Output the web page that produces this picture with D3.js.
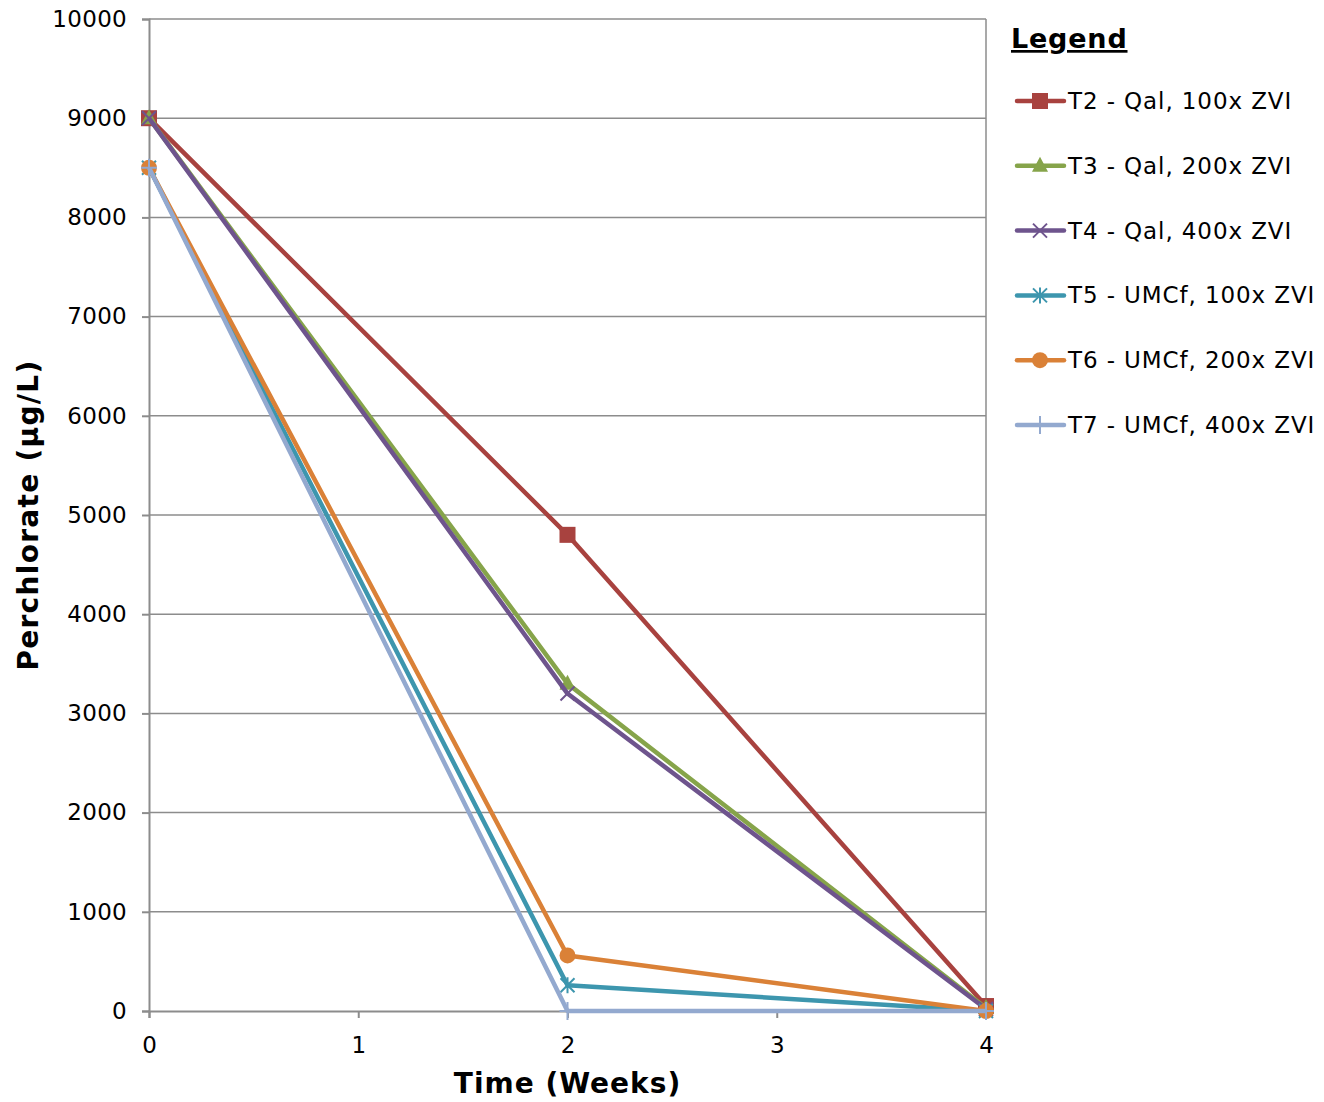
<!DOCTYPE html>
<html>
<head>
<meta charset="utf-8">
<script src="https://cdn.jsdelivr.net/npm/d3@7"></script>
<style>
  html, body { margin: 0; padding: 0; background: #fff; }
  svg { display: block; font-family: "DejaVu Sans", Verdana, sans-serif; }
</style>
</head>
<body>
<svg id="chart" width="1324" height="1102"></svg>
<script>
const weeks = [0, 2, 4];
const xTicks = [0, 1, 2, 3, 4];
const yTicks = [0, 1000, 2000, 3000, 4000, 5000, 6000, 7000, 8000, 9000, 10000];
const seriesNames = [
  "T2 - Qal, 100x ZVI",
  "T3 - Qal, 200x ZVI",
  "T4 - Qal, 400x ZVI",
  "T5 - UMCf, 100x ZVI",
  "T6 - UMCf, 200x ZVI",
  "T7 - UMCf, 400x ZVI"
];
const t2 = [9000, 4800, 50];
const t3 = [9000, 3300, 30];
const t4 = [9000, 3200, 20];
const t5 = [8500, 260, 0];
const t6 = [8500, 560, 0];
const t7 = [8500, 0, 0];
const seriesValues = [t2, t3, t4, t5, t6, t7];
const colors = ["#A8423F", "#86A44A", "#6E548D", "#3D96AE", "#DA8137", "#93A9CF"];
const markers = ["square", "triangle", "x", "star", "circle", "plus"];

(function () {
const svg = d3.select("#chart");
const pL = 149, pR = 986, pT = 19, pB = 1011;
const x = d3.scaleLinear().domain([0, 4]).range([pL, pR]);
const y = d3.scaleLinear().domain([0, 10000]).range([pB, pT]);
const gridColor = "#8c8c8c";

// gridlines
svg.append("g").selectAll("line").data(yTicks.slice(1)).join("line")
  .attr("x1", pL).attr("x2", pR)
  .attr("y1", d => y(d)).attr("y2", d => y(d))
  .attr("stroke", gridColor).attr("stroke-width", 1.5);
// right border
svg.append("line").attr("x1", pR).attr("x2", pR).attr("y1", pT).attr("y2", pB)
  .attr("stroke", gridColor).attr("stroke-width", 1.5);

// y axis
const yAxis = d3.axisLeft(y).tickValues(yTicks).tickSize(7).tickPadding(15).tickFormat(d3.format("d"));
const gy = svg.append("g").attr("transform", `translate(${pL},0)`).call(yAxis);
gy.select(".domain").attr("stroke", gridColor).attr("stroke-width", 2);
gy.selectAll(".tick line").attr("stroke", gridColor).attr("stroke-width", 2);
gy.selectAll(".tick text").attr("font-size", 23).attr("fill", "#000")
  .attr("letter-spacing", 0.3)
  .attr("font-family", "DejaVu Sans, Verdana, sans-serif");

// x axis
const xAxis = d3.axisBottom(x).tickValues(xTicks).tickSize(7).tickPadding(19).tickFormat(d3.format("d"));
const gx = svg.append("g").attr("transform", `translate(0,${pB})`).call(xAxis);
gx.select(".domain").attr("stroke", gridColor).attr("stroke-width", 2);
gx.selectAll(".tick line").attr("stroke", gridColor).attr("stroke-width", 2);
gx.selectAll(".tick text").attr("font-size", 23).attr("fill", "#000")
  .attr("font-family", "DejaVu Sans, Verdana, sans-serif");

// axis titles
svg.append("text").attr("x", (pL + pR) / 2).attr("y", 1093)
  .attr("text-anchor", "middle").attr("font-size", 28).attr("font-weight", "bold")
  .attr("letter-spacing", 1)
  .text("Time (Weeks)");
svg.append("text").attr("transform", `translate(38,${(pT + pB) / 2}) rotate(-90)`)
  .attr("text-anchor", "middle").attr("font-size", 28).attr("font-weight", "bold")
  .attr("letter-spacing", 1.3)
  .text("Perchlorate (µg/L)");

function drawMarker(g, type, cx, cy, color) {
  if (type === "square") {
    g.append("rect").attr("x", cx - 8).attr("y", cy - 8).attr("width", 16).attr("height", 16).attr("fill", color);
  } else if (type === "triangle") {
    g.append("path").attr("d", `M${cx},${cy - 9}L${cx + 8},${cy + 6}L${cx - 8},${cy + 6}Z`).attr("fill", color);
  } else if (type === "circle") {
    g.append("circle").attr("cx", cx).attr("cy", cy).attr("r", 8).attr("fill", color);
  } else if (type === "x") {
    g.append("path").attr("d", `M${cx - 7},${cy - 7}L${cx + 7},${cy + 7}M${cx - 7},${cy + 7}L${cx + 7},${cy - 7}`)
      .attr("stroke", color).attr("stroke-width", 2);
  } else if (type === "star") {
    g.append("path").attr("d", `M${cx - 7},${cy - 7}L${cx + 7},${cy + 7}M${cx - 7},${cy + 7}L${cx + 7},${cy - 7}M${cx},${cy - 8}L${cx},${cy + 8}`)
      .attr("stroke", color).attr("stroke-width", 2);
  } else if (type === "plus") {
    g.append("path").attr("d", `M${cx},${cy - 9}L${cx},${cy + 9}M${cx - 8},${cy}L${cx + 8},${cy}`)
      .attr("stroke", color).attr("stroke-width", 2);
  }
}

const line = d3.line().x((d, i) => x(weeks[i])).y(d => y(d));
seriesValues.forEach((vals, si) => {
  const g = svg.append("g");
  g.append("path").datum(vals).attr("d", line).attr("fill", "none")
    .attr("stroke", colors[si]).attr("stroke-width", 4.5).attr("stroke-linejoin", "round");
  vals.forEach((v, i) => drawMarker(g, markers[si], x(weeks[i]), y(v), colors[si]));
});

// legend
svg.append("text").attr("x", 1011).attr("y", 48).attr("font-size", 27).attr("font-weight", "bold")
  .attr("letter-spacing", 0.8)
  .attr("text-decoration", "underline").text("Legend");
seriesNames.forEach((name, i) => {
  const ly = 101 + i * 64.8;
  const g = svg.append("g");
  g.append("line").attr("x1", 1017).attr("x2", 1064).attr("y1", ly).attr("y2", ly)
    .attr("stroke", colors[i]).attr("stroke-width", 4.5).attr("stroke-linecap", "round");
  drawMarker(g, markers[i], 1040, ly, colors[i]);
  g.append("text").attr("x", 1068).attr("y", ly + 8).attr("font-size", 23)
    .attr("letter-spacing", 0.9).text(name);
});
})();
</script>
</body>
</html>
